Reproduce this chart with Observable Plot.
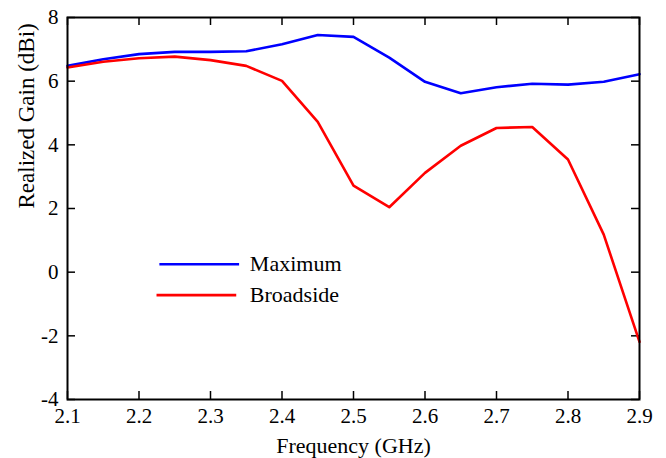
<!DOCTYPE html>
<html>
<head>
<meta charset="utf-8">
<script src="https://cdn.jsdelivr.net/npm/d3@7"></script>
<script src="https://cdn.jsdelivr.net/npm/@observablehq/plot@0.6"></script>
<style>
  body { margin: 0; font-family: "Liberation Serif", serif; }
  #warm { position: absolute; left: 0; top: 0; font-family: "Liberation Serif"; font-size: 2px; color: transparent; pointer-events: none; }
</style>
</head>
<body>
<span id="warm" aria-hidden="true">.</span>
<div id="chart"></div>
<script>
const frequency = [2.1, 2.15, 2.2, 2.25, 2.3, 2.35, 2.4, 2.45, 2.5, 2.55, 2.6, 2.65, 2.7, 2.75, 2.8, 2.85, 2.9];
const maximum   = [6.48, 6.69, 6.85, 6.92, 6.92, 6.94, 7.16, 7.45, 7.39, 6.74, 5.98, 5.62, 5.81, 5.92, 5.89, 5.98, 6.22];
const broadside = [6.43, 6.61, 6.72, 6.77, 6.66, 6.48, 6.01, 4.72, 2.72, 2.04, 3.12, 3.97, 4.53, 4.56, 3.54, 1.18, -2.19];
const seriesNames = ["Maximum", "Broadside"];
const seriesColors = ["#0000ff", "#ff0000"];
const xTicks = [2.1, 2.2, 2.3, 2.4, 2.5, 2.6, 2.7, 2.8, 2.9];
const yTicks = [-4, -2, 0, 2, 4, 6, 8];

const rows = [];
frequency.forEach((f, i) => {
  rows.push({f, g: maximum[i], s: seriesNames[0]});
  rows.push({f, g: broadside[i], s: seriesNames[1]});
});

const W = 666, H = 458;
const mL = 67, mR = 27, mT = 17, mB = 59;
const innerW = W - mL - mR, innerH = H - mT - mB;
const tickLen = 8;
const font = "Liberation Serif";

const legend = seriesNames.map((name, i) => ({name, color: seriesColors[i], row: i}));
const legendX1 = [2.2285, 2.2245], legendX2 = [2.340, 2.336], legendY = [0.25, -0.72], legendTextX = 2.355;

const chart = Plot.plot({
  width: W,
  height: H,
  marginLeft: mL,
  marginRight: mR,
  marginTop: mT,
  marginBottom: mB,
  style: {fontFamily: font, fontSize: "21px"},
  x: {domain: [2.1, 2.9]},
  y: {domain: [-4, 8]},
  color: {domain: seriesNames, range: seriesColors},
  marks: [
    Plot.tickX(xTicks, {x: d => d, insetTop: innerH - tickLen, stroke: "#000", strokeWidth: 1.5}),
    Plot.tickX(xTicks, {x: d => d, insetBottom: innerH - tickLen, stroke: "#000", strokeWidth: 1.5}),
    Plot.tickY(yTicks, {y: d => d, insetRight: innerW - tickLen, stroke: "#000", strokeWidth: 1.5}),
    Plot.tickY(yTicks, {y: d => d, insetLeft: innerW - tickLen, stroke: "#000", strokeWidth: 1.5}),
    Plot.axisX({ticks: xTicks, tickSize: 0, tickPadding: 9, tickFormat: d3.format(".1f"), fontSize: 21, fontFamily: font, label: null}),
    Plot.axisY({ticks: yTicks, tickSize: 0, tickPadding: 9, tickFormat: d => String(d), fontSize: 21, fontFamily: font, label: null}),
    Plot.text(["Frequency (GHz)"], {frameAnchor: "bottom", dy: 53, lineAnchor: "bottom", text: d => d, fontSize: 22, fontFamily: font, fill: "#000"}),
    Plot.text(["Realized Gain (dBi)"], {frameAnchor: "left", dx: -41, rotate: -90, text: d => d, fontSize: 23, fontFamily: font, fill: "#000"}),
    Plot.line(rows, {x: "f", y: "g", z: "s", stroke: "s", strokeWidth: 2.6}),
    Plot.frame({stroke: "#000", strokeWidth: 2}),
    Plot.link(legend, {x1: d => legendX1[d.row], x2: d => legendX2[d.row], y1: d => legendY[d.row], y2: d => legendY[d.row], stroke: "color", strokeWidth: 2.6}),
    Plot.text(legend, {x: legendTextX, y: d => legendY[d.row], text: "name", textAnchor: "start", fontSize: 22, fontFamily: font, fill: "#000"})
  ]
});
document.getElementById("chart").appendChild(chart);
if (document.fonts && document.fonts.load) document.fonts.load("22px 'Liberation Serif'");
</script>
</body>
</html>
